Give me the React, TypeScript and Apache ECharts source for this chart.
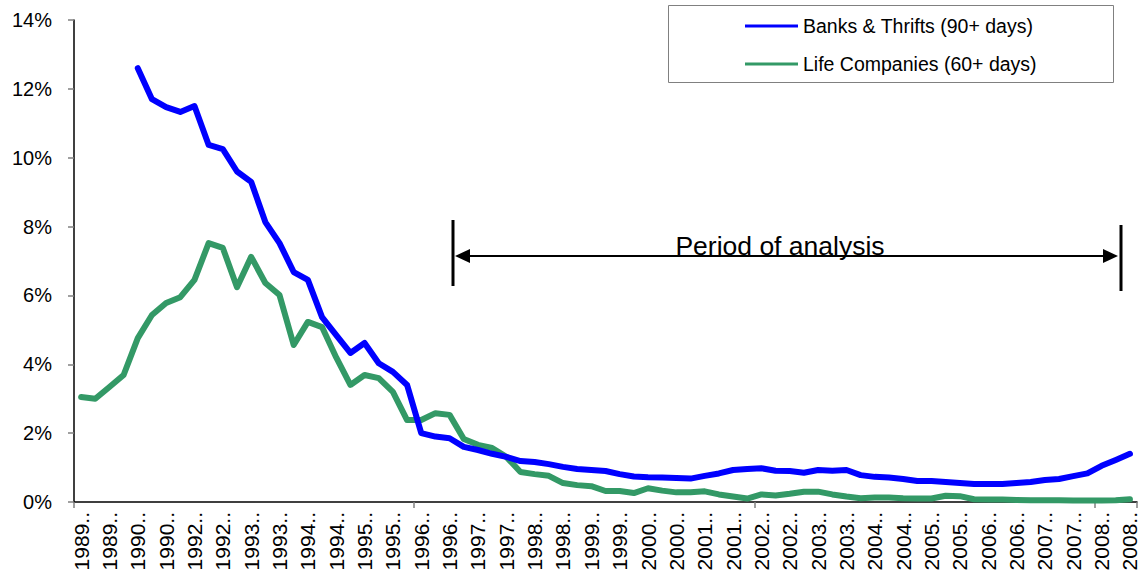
import React, { useEffect, useRef } from "react";
import * as echarts from "echarts";

// Quarter categories (1991 is absent from the source's axis)
const categoryYears = [1989, 1990, 1992, 1993, 1994, 1995, 1996, 1997, 1998, 1999, 2000, 2001, 2002, 2003, 2004, 2005, 2006, 2007, 2008];
const quartersInLastYear = 3;

const banksThrifts: (number | null)[] = [
  null, null, null, null, 12.6, 11.7, 11.47, 11.33, 11.5, 10.37,
  10.25, 9.6, 9.3, 8.13, 7.52, 6.68, 6.45, 5.37, 4.85, 4.33,
  4.62, 4.03, 3.78, 3.4, 2.0, 1.9, 1.85, 1.6, 1.51, 1.4,
  1.31, 1.19, 1.16, 1.1, 1.02, 0.96, 0.93, 0.9, 0.81, 0.74,
  0.72, 0.71, 0.7, 0.68, 0.76, 0.83, 0.93, 0.96, 0.98, 0.91,
  0.9, 0.85, 0.93, 0.91, 0.93, 0.78, 0.73, 0.71, 0.67, 0.61,
  0.61, 0.58, 0.55, 0.52, 0.52, 0.52, 0.55, 0.58, 0.64, 0.67,
  0.75, 0.83, 1.05, 1.22, 1.4,
];

const lifeCompanies: number[] = [
  3.05, 3.0, 3.34, 3.69, 4.76, 5.43, 5.78, 5.95, 6.45, 7.52,
  7.38, 6.24, 7.12, 6.36, 6.01, 4.56, 5.23, 5.08, 4.2, 3.4,
  3.69, 3.6, 3.2, 2.38, 2.38, 2.58, 2.53, 1.83, 1.66, 1.57,
  1.31, 0.87, 0.81, 0.76, 0.55, 0.49, 0.46, 0.32, 0.32, 0.26,
  0.4, 0.33, 0.28, 0.28, 0.31, 0.22, 0.16, 0.1, 0.22, 0.19,
  0.24, 0.3, 0.3, 0.22, 0.16, 0.11, 0.13, 0.13, 0.11, 0.1,
  0.1, 0.18, 0.17, 0.08, 0.07, 0.07, 0.06, 0.05, 0.05, 0.05,
  0.04, 0.04, 0.04, 0.05, 0.08,
];

const seriesNames = ["Banks & Thrifts (90+ days)", "Life Companies (60+ days)"];
const annotationText = "Period of analysis";

function buildCategories(): string[] {
  const out: string[] = [];
  categoryYears.forEach((y, i) => {
    const n = i === categoryYears.length - 1 ? quartersInLastYear : 4;
    for (let q = 1; q <= n; q++) out.push(`${y} Q${q}`);
  });
  return out;
}

const FONT = "'Liberation Sans', Arial, sans-serif";

export default function App() {
  const ref = useRef<HTMLDivElement>(null);
  useEffect(() => {
    if (!ref.current) return;
    const chart = echarts.init(ref.current, undefined, { renderer: "svg" });
    const categories = buildCategories();
    const arrowY = 256;
    const leftX = 453;
    const rightX = 1121;
    chart.setOption({
      animation: false,
      backgroundColor: "#ffffff",
      textStyle: { fontFamily: FONT },
      grid: { left: 74, right: 6, top: 20, bottom: 72, containLabel: false },
      legend: {
        orient: "vertical",
        left: 740,
        top: 10,
        itemWidth: 53,
        itemHeight: 3,
        itemGap: 16,
        icon: "rect",
        data: seriesNames,
        textStyle: { fontSize: 19.5, color: "#000", fontFamily: FONT, lineHeight: 22 },
      },
      xAxis: {
        type: "category",
        data: categories,
        boundaryGap: true,
        axisLine: { show: true, lineStyle: { color: "#000", width: 1.5 } },
        axisTick: {
          show: true,
          length: 6,
          interval: (index: number) => index % 24 === 0,
          lineStyle: { color: "#808080", width: 1.5 },
        },
        axisLabel: {
          interval: 1,
          rotate: 90,
          margin: 10,
          fontSize: 21,
          color: "#000",
          fontFamily: FONT,
          formatter: (v: string) => v.slice(0, 4) + "..",
        },
        splitLine: { show: false },
      },
      yAxis: {
        type: "value",
        min: 0,
        max: 14,
        interval: 2,
        axisLine: { show: true, lineStyle: { color: "#000", width: 1.5 } },
        axisTick: { show: true, length: 6, lineStyle: { color: "#808080", width: 1.5 } },
        axisLabel: {
          formatter: "{value}%",
          fontSize: 20,
          color: "#000",
          margin: 22,
          fontFamily: FONT,
        },
        splitLine: { show: false },
      },
      series: [
        {
          name: seriesNames[0],
          type: "line",
          data: banksThrifts,
          symbol: "none",
          connectNulls: false,
          itemStyle: { color: "#0000FF" },
          lineStyle: { color: "#0000FF", width: 6, join: "round", cap: "round" },
          z: 3,
        },
        {
          name: seriesNames[1],
          type: "line",
          data: lifeCompanies,
          symbol: "none",
          itemStyle: { color: "#339966" },
          lineStyle: { color: "#339966", width: 6, join: "round", cap: "round" },
          z: 2,
        },
      ],
      graphic: [
        {
          type: "rect",
          z: 0,
          shape: { x: 668.5, y: 5.5, width: 445, height: 77 },
          style: { fill: "#fff", stroke: "#808080", lineWidth: 1 },
        },
        {
          type: "line",
          z: 10,
          shape: { x1: leftX, y1: 220, x2: leftX, y2: 286 },
          style: { stroke: "#000", lineWidth: 3 },
        },
        {
          type: "line",
          z: 10,
          shape: { x1: rightX, y1: 225, x2: rightX, y2: 291 },
          style: { stroke: "#000", lineWidth: 3 },
        },
        {
          type: "line",
          z: 10,
          shape: { x1: leftX + 10, y1: arrowY, x2: rightX - 10, y2: arrowY },
          style: { stroke: "#000", lineWidth: 2 },
        },
        {
          type: "polygon",
          z: 10,
          shape: { points: [[leftX + 2, arrowY], [leftX + 17, arrowY - 7], [leftX + 17, arrowY + 7]] },
          style: { fill: "#000" },
        },
        {
          type: "polygon",
          z: 10,
          shape: { points: [[rightX - 3, arrowY], [rightX - 18, arrowY - 7], [rightX - 18, arrowY + 7]] },
          style: { fill: "#000" },
        },
        {
          type: "text",
          z: 10,
          x: 780,
          y: 259,
          style: {
            text: annotationText,
            fontSize: 26.5,
            fontFamily: FONT,
            fill: "#000",
            align: "center",
            verticalAlign: "bottom",
          },
        },
      ],
    });
    return () => chart.dispose();
  }, []);
  return (
    <div
      ref={ref}
      style={{ position: "absolute", left: 0, top: 0, width: 1143, height: 574 }}
    />
  );
}
